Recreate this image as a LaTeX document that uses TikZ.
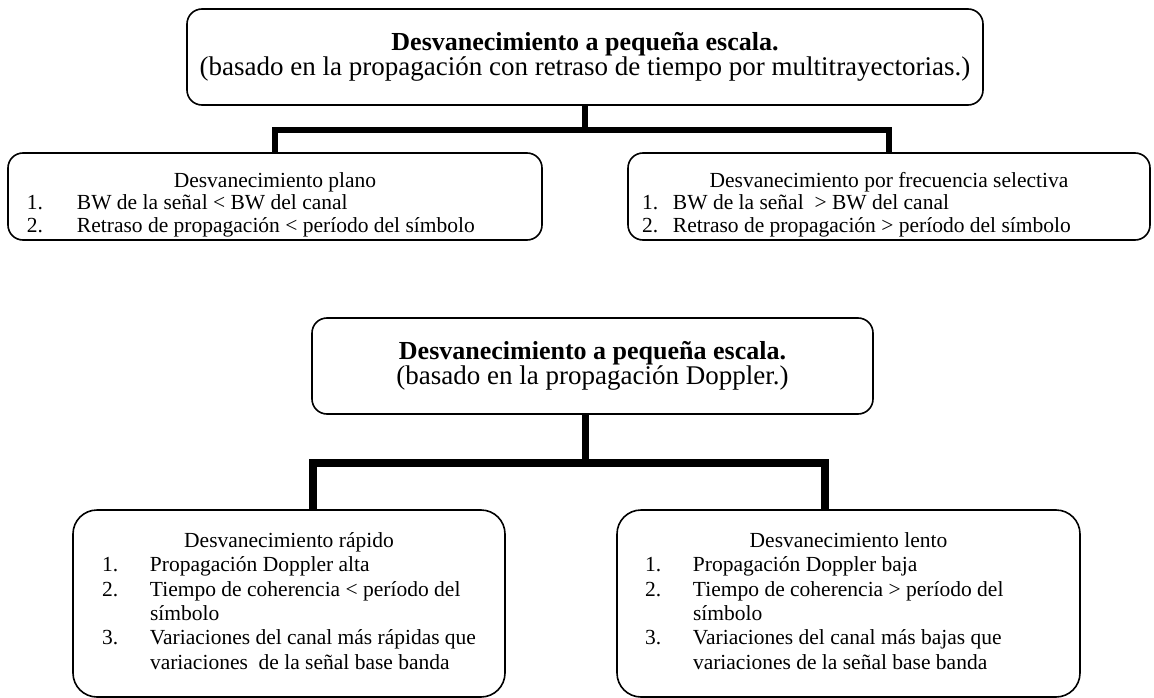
\documentclass[tikz,border=0pt]{standalone}
\usepackage{fontspec}
\setmainfont{Liberation Serif}
\usetikzlibrary{positioning}
\setlength{\tabcolsep}{0pt}

\begin{document}
\begin{tikzpicture}[x=1pt, y=-1pt,
    box/.style={draw, line width=1.6pt, rectangle, rounded corners=15pt, inner sep=0pt, align=center},
    title/.style={box, minimum height=96pt, font=\fontsize{27}{24}\selectfont},
    leaf/.style={box, font=\fontsize{21.5}{22.5}\selectfont},
    bigleaf/.style={box, rounded corners=24pt, minimum height=187pt, font=\fontsize{21.5}{24.3}\selectfont},
    branch/.style={line width=6pt},
    thickbranch/.style={line width=7.5pt}
]
\useasboundingbox (0,0) rectangle (1154,698);

% retraso de tiempo por multitrayectorias
\node[title, minimum width=796pt] (top1) at (585,57) {{\fontsize{26}{24}\selectfont\textbf{Desvanecimiento a pequeña escala.}}\\(basado en la propagación con retraso de tiempo por multitrayectorias.)};
\node[leaf, minimum width=534pt, minimum height=87pt] (plano) at (275,196.5) {\begin{tabular}{@{}p{50pt}p{446pt}@{}}
\multicolumn{2}{c}{\rule{0pt}{33pt}Desvanecimiento plano}\\
1. & BW de la señal < BW del canal\\
2. & Retraso de propagación < período del símbolo
\end{tabular}};
\node[leaf, minimum width=522pt, minimum height=87pt] (selectiva) at (889,196.5) {\begin{tabular}{@{}p{31pt}p{463pt}@{}}
\multicolumn{2}{c}{\rule{0pt}{33pt}Desvanecimiento por frecuencia selectiva}\\
1. & BW de la señal~ > BW del canal\\
2. & Retraso de propagación > período del símbolo
\end{tabular}};

\draw[branch] (top1.south) -- ++(0,24) coordinate (j1);
\draw[branch] (plano.north) |- (j1) -| (selectiva.north);

% propagacion Doppler
\node[title, minimum width=561pt] (top2) at (592.5,366) {{\fontsize{26}{24}\selectfont\textbf{Desvanecimiento a pequeña escala.}}\\(basado en la propagación Doppler.)};
\node[bigleaf, minimum width=432pt] (rapido) at (289,603.5) {\begin{tabular}{@{}p{48pt}p{326pt}@{}}
\multicolumn{2}{c}{Desvanecimiento rápido}\\
1. & Propagación Doppler alta\\
2. & Tiempo de coherencia < período del\newline símbolo\\
3. & Variaciones del canal más rápidas que\newline variaciones~ de la señal base banda
\end{tabular}};
\node[bigleaf, minimum width=463pt] (lento) at (848.5,603.5) {\begin{tabular}{@{}p{48pt}p{359pt}@{}}
\multicolumn{2}{c}{Desvanecimiento lento}\\
1. & Propagación Doppler baja\\
2. & Tiempo de coherencia > período del\newline símbolo\\
3. & Variaciones del canal más bajas que\newline variaciones de la señal base banda
\end{tabular}};

\draw[thickbranch] ([xshift=-7pt]top2.south) -- ++(0,48) coordinate (j2);
\draw[thickbranch] ([xshift=24pt]rapido.north) |- (j2) -| ([xshift=-23.5pt]lento.north);
\end{tikzpicture}
\end{document}
